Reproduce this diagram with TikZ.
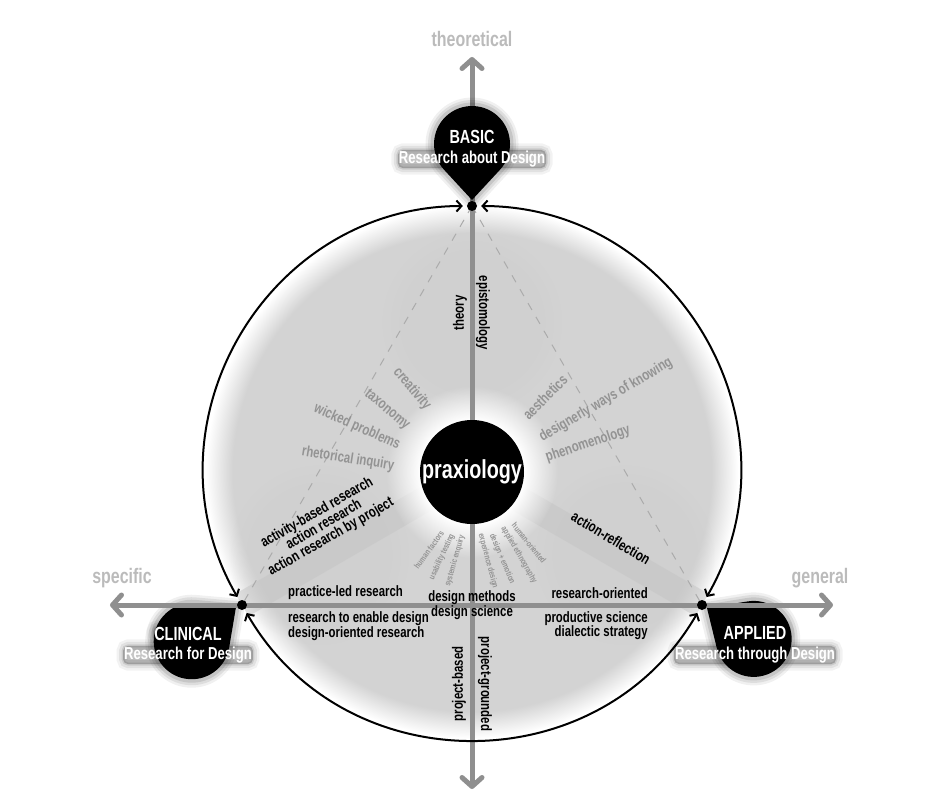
\documentclass[tikz,border=0pt]{standalone}
\usepackage{fontspec}
\setmainfont{Liberation Sans}[FakeStretch=0.76]
\usetikzlibrary{arrows.meta,fadings}
\definecolor{axisgray}{HTML}{8F8F8F}
\definecolor{softgray}{HTML}{939393}
\definecolor{palegray}{HTML}{BBBBBB}
\definecolor{fillgray}{HTML}{D3D3D3}
\definecolor{bandgray}{HTML}{C4C4C4}
\pgfdeclareradialshading{rimshade}{\pgfpointorigin}{color(0bp)=(fillgray); color(22.5bp)=(fillgray); color(25bp)=(white); color(50bp)=(white)}
\pgfdeclareradialshading{haloshade}{\pgfpointorigin}{color(0bp)=(pgftransparent!0); color(15bp)=(pgftransparent!0); color(25bp)=(pgftransparent!100); color(50bp)=(pgftransparent!100)}
\pgfdeclarefading{halo}{\pgfuseshading{haloshade}}
\pgfdeclareradialshading{blobshade}{\pgfpointorigin}{color(0bp)=(pgftransparent!0); color(19bp)=(pgftransparent!10); color(25bp)=(pgftransparent!100); color(50bp)=(pgftransparent!100)}
\pgfdeclarefading{blob}{\pgfuseshading{blobshade}}

\begin{document}
\begin{tikzpicture}[x=1pt,y=-1pt,
	bk/.style={font=\bfseries\fontsize{15}{14}\selectfont,inner sep=0pt,align=center},
	gy/.style={bk,text=softgray},
	tn/.style={font=\bfseries\fontsize{8.5}{9}\selectfont,inner sep=0pt,text=softgray},
	ax/.style={font=\bfseries\fontsize{21}{22}\selectfont,inner sep=0pt,text=palegray},
	glow/.style={inner sep=1pt,rounded corners=5pt,text=white,
		preaction={draw=black,opacity=.05,line width=13pt},
		preaction={draw=black,opacity=.07,line width=8pt},
		preaction={draw=black,opacity=.1,line width=3pt},
		preaction={fill=black,opacity=.22}},
	pn/.style={glow,font=\bfseries\fontsize{19}{19}\selectfont},
	ps/.style={glow,font=\bfseries\fontsize{17.3}{17}\selectfont},
	dt/.style={circle,fill=black,inner sep=0pt,minimum size=10pt},
	hub/.style={circle,fill=black,inner sep=0pt,minimum size=104pt,text=white,font=\bfseries\fontsize{26}{26}\selectfont},
	axis/.style={draw=axisgray,line width=5pt,{Straight Barb[length=9pt,width=20pt,round]}-{Straight Barb[length=9pt,width=20pt,round]}},
	ring/.style={line width=2pt,{Straight Barb[length=5pt,width=11pt]}-{Straight Barb[length=5pt,width=11pt]},shorten <=4pt,shorten >=4pt},
	tri/.style={draw=black!33,line width=1pt,dash pattern=on 8pt off 8pt},
	band/.style={draw=bandgray,line width=26pt,opacity=.5},
	drop/.pic={
		\foreach \w/\op in {17/.06,12/.08,7/.1}
			\draw[line width=\w pt,opacity=\op,line join=round] (0,0) -- (-27.9,-30.2) arc[start angle=137.27,end angle=402.73,radius=38] -- cycle;
		\fill (0,0) -- (-27.9,-30.2) arc[start angle=137.27,end angle=402.73,radius=38] -- cycle;
	},
	]
\useasboundingbox (0,0) rectangle (928,800);
\coordinate (O) at (472,472);
\coordinate (T) at (472,206);
\coordinate (L) at (242,605);
\coordinate (R) at (702,605);
\coordinate (up) at (472,57);
\coordinate (down) at (472,789);
\coordinate (west) at (110,605);
\coordinate (east) at (833,605);

% disc, blobs, bands
\shade[shading=rimshade] (O) circle[radius=266];
\foreach \c in {(472,322),(319,555),(625,555)}
	\fill[black!20,opacity=.4,path fading=blob] \c circle[radius=90];
\draw[band] (O) -- (L);
\draw[band] (O) -- (R);
\fill[white,path fading=halo] (O) circle[radius=86];
\draw[tri] (T) -- (L);
\draw[tri] (T) -- (R);

% axes and pins
\draw[axis] (up) -- (down);
\pic at (472,200) {drop};
\pic[rotate=127.7] at (236,607) {drop};
\pic[rotate=-123.5] at (707,608) {drop};
\draw[axis] (west) -- (east);

\node[hub] (hub) at (O) {praxiology};
\node[dt] (t) at (T) {};
\node[dt] (l) at (L) {};
\node[dt] (r) at (R) {};
\draw[ring] (t) to[bend right=60,looseness=1.13] (l);
\draw[ring] (l) to[bend right=60,looseness=1.13] (r);
\draw[ring] (r) to[bend right=60,looseness=1.13] (t);

% black labels
\node[bk,rotate=90] (theory) at (460,313) {theory};
\node[bk,rotate=-90] (episto) at (483,313) {epistomology};
\node[bk,rotate=90] (pbased) at (459,684) {project-based};
\node[bk,rotate=-90] (pground) at (485,684) {project-grounded};
\node[bk,anchor=west] (pled) at (288,593) {practice-led research};
\node[bk,anchor=west,align=left] (enable) at (288,626) {research to enable design\\design-oriented research};
\node[bk] (methods) at (472,605) {design methods\\design science};
\node[bk,anchor=east] (roriented) at (648,593) {research-oriented};
\node[bk,anchor=east,align=right] (prod) at (648,626) {productive science\\dialectic strategy};
\node[bk,rotate=30] (activity) at (324,525) {activity-based research\\action research\\action research by project};
\node[bk,rotate=-31] (reflect) at (611,538) {action-reflection};

% gray labels
\node[gy,rotate=-50] (creat) at (412,389) {creativity};
\node[gy,rotate=-40] (taxo) at (387,410) {taxonomy};
\node[gy,rotate=-24] (wicked) at (357,427) {wicked problems};
\node[gy,rotate=-9] (rhet) at (348,459) {rhetorical inquiry};
\node[gy,rotate=45] (aesth) at (545,397) {aesthetics};
\node[gy,rotate=30.5] (knowing) at (606,400) {designerly ways of knowing};
\node[gy,rotate=18.5] (phenom) at (588,444) {phenomenology};

% tiny labels
\node[tn,rotate=54] (hfactors) at (429,550) {human factors};
\node[tn,rotate=65] (usab) at (442,557) {usability testing};
\node[tn,rotate=74] (sysenq) at (455,561) {systemic enquiry};
\node[tn,rotate=-75] (expdes) at (488,561) {experience design};
\node[tn,rotate=-67] (demo) at (502,559) {design + emotion};
\node[tn,rotate=-60] (ethno) at (519,555) {applied ethnography};
\node[tn,rotate=-51] (horiented) at (529,543) {human-oriented};

% axis labels
\node[ax] (theo) at (472,39) {theoretical};
\node[ax] (spec) at (122,578) {specific};
\node[ax] (gen) at (820,578) {general};

% pin labels
\node[pn] (basic) at (472,137) {BASIC};
\node[ps] (basicsub) at (472,159) {Research about Design};
\node[pn] (clinical) at (188,634) {CLINICAL};
\node[ps] (clinicalsub) at (188,655) {Research for Design};
\node[pn] (applied) at (755,633) {APPLIED};
\node[ps] (appliedsub) at (755,655) {Research through Design};
\end{tikzpicture}
\end{document}
